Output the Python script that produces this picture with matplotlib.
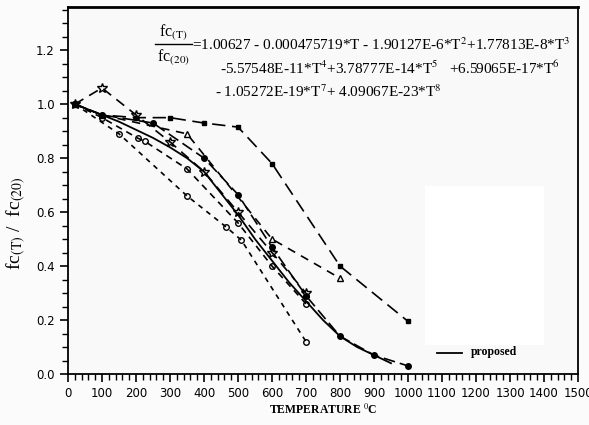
import numpy as np
import matplotlib
matplotlib.use("Agg")
import matplotlib.pyplot as plt
from matplotlib.patches import Rectangle

# ---- data ----
# proposed curve (solid line)
T_prop = [20, 50, 100, 150, 200, 250, 300, 350, 400, 450, 500, 550, 600, 650, 700, 750, 800, 850, 900, 950]
fc_prop = [1.00, 0.985, 0.96, 0.935, 0.905, 0.875, 0.84, 0.80, 0.75, 0.67, 0.59, 0.50, 0.42, 0.34, 0.27, 0.20, 0.14, 0.10, 0.07, 0.04]

# test series (dashed lines)
T_a = [20, 100, 200, 300, 400, 500, 600, 800, 1000]
fc_a = [1.0, 0.96, 0.95, 0.95, 0.93, 0.915, 0.78, 0.40, 0.195]

T_b = [20, 100, 200, 300, 400, 500, 600, 700]
fc_b = [1.0, 1.06, 0.96, 0.86, 0.75, 0.60, 0.45, 0.30]

T_c = [20, 100, 350, 600, 800]
fc_c = [1.0, 0.96, 0.89, 0.50, 0.355]

T_d = [20, 100, 250, 400, 500, 600, 700, 800, 900, 1000]
fc_d = [1.0, 0.96, 0.93, 0.80, 0.665, 0.47, 0.29, 0.14, 0.07, 0.03]

T_e = [20, 150, 350, 465, 510, 700]
fc_e = [1.0, 0.89, 0.66, 0.545, 0.496, 0.12]

T_f = [20, 100, 205, 225, 350, 500, 600, 700]
fc_f = [1.0, 0.95, 0.874, 0.863, 0.76, 0.56, 0.40, 0.26]

x_ticks = list(range(0, 1501, 100))
y_ticks = [0.0, 0.2, 0.4, 0.6, 0.8, 1.0, 1.2]

plt.rcParams['mathtext.fontset'] = 'stix'

fig = plt.figure(figsize=(5.89, 4.25), dpi=100)
fig.patch.set_facecolor('#fbfbfb')
ax = fig.add_axes([68 / 589, 1 - 374 / 425, 510 / 589, 367 / 425])
ax.set_facecolor('#f9f9f9')

# white patch left over from the scan
ax.add_patch(Rectangle((1050, 0.107), 350, 0.59, facecolor='white', edgecolor='none', zorder=0))

k = dict(color='black', lw=1.2)
ax.plot(T_a, fc_a, dashes=(8, 4), marker='s', ms=3, **k)
ax.plot(T_b, fc_b, dashes=(6, 4), marker='*', ms=7, mfc='none', **k)
ax.plot(T_c, fc_c, dashes=(5, 4), marker='^', ms=5, mfc='none', **k)
ax.plot(T_d, fc_d, dashes=(7, 3), marker='o', ms=4, **k)
ax.plot(T_e, fc_e, dashes=(3, 3), marker='o', ms=4, mfc='none', **k)
ax.plot(T_f, fc_f, dashes=(4, 3), marker='o', ms=4, mfc='none', **k)
ax.plot(T_prop, fc_prop, '-', color='black', lw=1.3)

ax.set_xlim(0, 1500)
ax.set_ylim(0, 1.36)
ax.set_xticks(x_ticks)
ax.set_xticks(np.arange(0, 1501, 20), minor=True)
ax.set_yticks(y_ticks)
ax.set_yticks(np.arange(0, 1.36, 0.05), minor=True)
ax.set_yticklabels([f"{v:.1f}" for v in y_ticks])
ax.tick_params(which='major', length=6, width=1.2, labelsize=8.5, direction='out')
ax.tick_params(which='minor', length=4, width=1.0, direction='out')
for lab in ax.get_xticklabels() + ax.get_yticklabels():
    lab.set_family('DejaVu Sans Condensed')
for side in ['left', 'bottom', 'right']:
    ax.spines[side].set_linewidth(1.3)
ax.spines['top'].set_linewidth(2.0)

ax.set_xlabel(r"TEMPERATURE $^{0}$C", fontsize=8.5, family='Liberation Serif',
              fontweight='bold', labelpad=2)
ax.set_ylabel(r"fc$_{(\mathrm{T})}$ /  fc$_{(20)}$", fontsize=14, family='Liberation Serif')
ax.yaxis.set_label_coords(-0.078, 0.41)

# legend entry
ax.plot([1085, 1160], [0.078, 0.078], '-', color='black', lw=1.3)
ax.text(1185, 0.082, "proposed", fontsize=8.5, family='Liberation Serif',
        fontweight='bold', va='center')

# fitted equation
fs = 11
ax.text(0.206, 0.905, r"fc$_{(\mathrm{T})}$", transform=ax.transAxes, fontsize=fs + 0.5,
        family='Liberation Serif', ha='center', va='bottom')
ax.plot([0.17, 0.243], [0.898, 0.898], transform=ax.transAxes, color='black', lw=1.0, clip_on=False)
ax.text(0.206, 0.89, r"fc$_{(20)}$", transform=ax.transAxes, fontsize=fs + 0.5,
        family='Liberation Serif', ha='center', va='top')
ax.text(0.243, 0.896, r"=1.00627 - 0.000475719*T - 1.90127E-6*T$^2$+1.77813E-8*T$^3$",
        transform=ax.transAxes, fontsize=fs, family='Liberation Serif', va='center')
ax.text(0.965, 0.834, r"-5.57548E-11*T$^4$+3.78777E-14*T$^5$   +6.59065E-17*T$^6$",
        transform=ax.transAxes, fontsize=fs, family='Liberation Serif', va='center', ha='right')
ax.text(0.288, 0.768, r"- 1.05272E-19*T$^7$+ 4.09067E-23*T$^8$",
        transform=ax.transAxes, fontsize=fs, family='Liberation Serif', va='center')

fig.savefig("out.png", dpi=100, facecolor=fig.get_facecolor())
